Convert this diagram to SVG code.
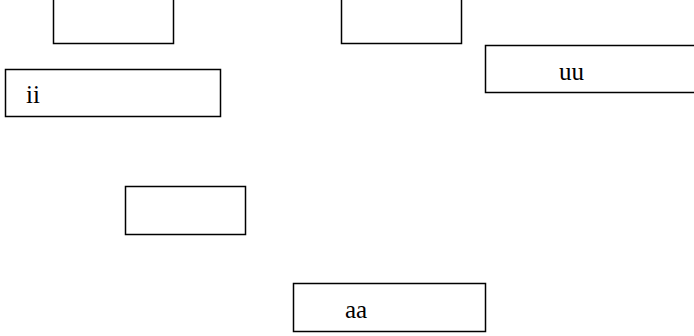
<svg xmlns="http://www.w3.org/2000/svg" width="694" height="336" viewBox="0 0 694 336">
<style>
.box{fill:#fff;stroke:#000;stroke-width:1.5}
.lbl{font-family:"Liberation Serif","Times New Roman",serif;font-size:25px;fill:#000}
</style>
<rect width="694" height="336" fill="#fff"/>
<g id="n1"><rect class="box" x="53.5" y="-10" width="120" height="53.5"/></g>
<g id="n2"><rect class="box" x="341.5" y="-10" width="120" height="53.5"/></g>
<g id="ii"><rect class="box" x="5.5" y="69.5" width="215" height="47"/><text class="lbl" x="26" y="103">ii</text></g>
<g id="uu"><rect class="box" x="485.5" y="45.5" width="220" height="47"/><text class="lbl" x="559" y="80">uu</text></g>
<g id="n3"><rect class="box" x="125.5" y="186.5" width="120" height="48"/></g>
<g id="aa"><rect class="box" x="293.5" y="283.5" width="192" height="48"/><text class="lbl" x="345" y="318">aa</text></g>
<g id="connectors"></g>
</svg>
